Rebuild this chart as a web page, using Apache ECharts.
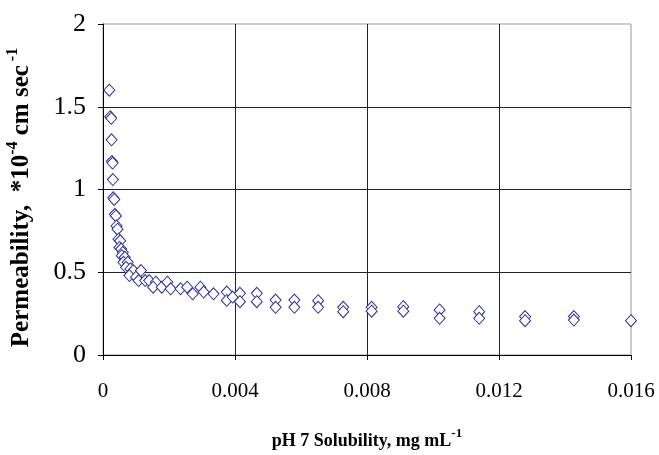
<!DOCTYPE html>
<html>
<head>
<meta charset="utf-8">
<script src="https://cdn.jsdelivr.net/npm/echarts@6/dist/echarts.min.js"></script>
<style>html,body{margin:0;padding:0;background:#fff;}#c{width:659px;height:455px;}</style>
</head>
<body>
<div id="c"></div>
<script>
// pH 7 solubility (mg/mL)
const solubility = [
  0.00019, 0.00022, 0.00025, 0.00026, 0.00027, 0.00029, 0.00030, 0.00031, 0.00034, 0.00036,
  0.00039, 0.00041, 0.00044, 0.00047, 0.00052, 0.00050, 0.00055, 0.00060, 0.00057, 0.00066,
  0.00062, 0.00075, 0.00070, 0.00083, 0.00092, 0.00080, 0.00100, 0.00115, 0.00108, 0.00128,
  0.00140, 0.00160, 0.00152, 0.00178, 0.00195, 0.00205, 0.00235, 0.00255, 0.00272, 0.00295,
  0.00305, 0.00335, 0.00375, 0.00375, 0.00393, 0.00415, 0.00415, 0.00466, 0.00466, 0.00523,
  0.00523, 0.00580, 0.00580, 0.00652, 0.00652, 0.00728, 0.00728, 0.00814, 0.00814, 0.00910,
  0.00910, 0.01020, 0.01020, 0.01140, 0.01140, 0.01279, 0.01279, 0.01427, 0.01427, 0.01600
];
// Permeability (*10^-4 cm/sec)
const permeability = [
  1.60, 1.44, 1.43, 1.30, 1.17, 1.16, 1.06, 0.95, 0.94, 0.85,
  0.84, 0.78, 0.76, 0.70, 0.69, 0.65, 0.64, 0.62, 0.60, 0.59,
  0.56, 0.56, 0.53, 0.52, 0.51, 0.48, 0.47, 0.51, 0.45, 0.45,
  0.45, 0.44, 0.41, 0.41, 0.44, 0.40, 0.40, 0.41, 0.37, 0.41,
  0.38, 0.37, 0.38, 0.33, 0.35, 0.373, 0.322, 0.373, 0.322, 0.332,
  0.288, 0.332, 0.288, 0.328, 0.288, 0.288, 0.262, 0.288, 0.265, 0.292,
  0.265, 0.272, 0.222, 0.262, 0.222, 0.232, 0.207, 0.232, 0.211, 0.207
];
const xTicks = [0, 0.004, 0.008, 0.012, 0.016];
const yTicks = [0, 0.5, 1, 1.5, 2];

const serif = '"Liberation Serif", "Times New Roman", serif';
const pts = solubility.map((x, i) => [x, permeability[i]]);

const chart = echarts.init(document.getElementById('c'), null, {renderer: 'canvas'});
chart.setOption({
  animation: false,
  backgroundColor: '#fff',
  grid: {left: 103, right: 28, top: 24, bottom: 100, show: true, borderColor: '#999', borderWidth: 1,
         backgroundColor: 'transparent', containLabel: false, outerBoundsMode: 'none'},
  xAxis: {
    type: 'value', min: xTicks[0], max: xTicks[xTicks.length - 1], interval: 0.004,
    axisLine: {show: true, onZero: false, lineStyle: {color: '#000', width: 1}},
    axisTick: {show: true, inside: false, length: 5, lineStyle: {color: '#000'}},
    splitLine: {show: true, showMinLine: false, showMaxLine: false, lineStyle: {color: '#222', width: 1}},
    axisLabel: {fontFamily: serif, fontSize: 21, color: '#000', margin: 26,
      formatter: v => { const s = xTicks.find(t => Math.abs(t - v) < 1e-9); return s === undefined ? '' : String(s); }},
    name: '{b|pH 7 Solubility, mg mL}{s|-1}',
    nameLocation: 'middle', nameGap: 72,
    nameTextStyle: {rich: {
      b: {fontFamily: serif, fontWeight: 'bold', fontSize: 18, color: '#000', lineHeight: 28},
      s: {fontFamily: serif, fontWeight: 'bold', fontSize: 13, color: '#000', verticalAlign: 'top', lineHeight: 12}
    }}
  },
  yAxis: {
    type: 'value', min: yTicks[0], max: yTicks[yTicks.length - 1], interval: 0.5,
    axisLine: {show: true, onZero: false, lineStyle: {color: '#000', width: 1}},
    axisTick: {show: true, inside: false, length: 5, lineStyle: {color: '#000'}},
    splitLine: {show: true, showMinLine: false, showMaxLine: false, lineStyle: {color: '#222', width: 1}},
    axisLabel: {fontFamily: serif, fontSize: 26, color: '#000', margin: 17},
    name: '{b|Permeability,  *10}{s|-4}{b| cm sec}{s| -1}',
    nameLocation: 'middle', nameGap: 64, nameRotate: 90,
    nameTextStyle: {padding: [0, 16, 0, 0], rich: {
      b: {fontFamily: serif, fontWeight: 'bold', fontSize: 25, color: '#000', lineHeight: 34},
      s: {fontFamily: serif, fontWeight: 'bold', fontSize: 16, color: '#000', verticalAlign: 'top', lineHeight: 14}
    }}
  },
  series: [{
    type: 'scatter',
    data: pts,
    symbol: 'diamond',
    symbolSize: [11, 12],
    itemStyle: {color: '#fff', borderColor: '#3030a0', borderWidth: 1, opacity: 1}
  }]
});
</script>
</body>
</html>
